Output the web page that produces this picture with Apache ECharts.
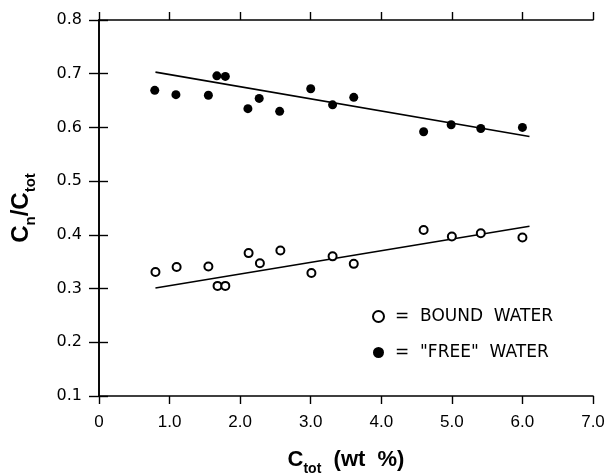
<!DOCTYPE html>
<html>
<head>
<meta charset="utf-8">
<script src="https://cdn.jsdelivr.net/npm/echarts@6/dist/echarts.min.js"></script>
<style>html,body{margin:0;padding:0;background:#fff;}#c{width:610px;height:476px;}</style>
</head>
<body>
<div id="c"></div>
<script>
// C_tot (wt %) for each sample
var boundX = [0.80, 1.10, 1.55, 1.68, 1.79, 2.12, 2.28, 2.57, 3.01, 3.31, 3.61, 4.60, 5.00, 5.41, 6.00];
var boundY = [0.331, 0.340, 0.341, 0.305, 0.305, 0.366, 0.347, 0.371, 0.329, 0.360, 0.346, 0.409, 0.397, 0.403, 0.395];
var freeX  = [0.79, 1.09, 1.55, 1.67, 1.79, 2.11, 2.27, 2.56, 3.00, 3.31, 3.61, 4.60, 4.99, 5.41, 6.00];
var freeY  = [0.669, 0.661, 0.660, 0.696, 0.695, 0.635, 0.654, 0.630, 0.672, 0.642, 0.656, 0.592, 0.605, 0.598, 0.600];
// regression line endpoints [x, y]
var boundFitX = [0.8, 6.1];
var boundFitY = [0.301, 0.416];
var freeFitX = [0.8, 6.1];
var freeFitY = [0.703, 0.583];
var seriesNames = ['BOUND WATER', '"FREE" WATER'];

function zip(a, b) { return a.map(function (v, i) { return [v, b[i]]; }); }

var chart = echarts.init(document.getElementById('c'), null, {renderer: 'canvas'});
var axisLine = {show: true, lineStyle: {color: '#000', width: 1.6}};
var sans = '"Liberation Sans", Arial, sans-serif';
chart.setOption({
  backgroundColor: '#fff',
  animation: false,
  grid: {left: 99, right: 17, top: 20, bottom: 80, containLabel: false, outerBoundsMode: 'none'},
  legend: {
    orient: 'vertical',
    left: 367, top: 303,
    itemWidth: 11, itemHeight: 11, itemGap: 19,
    data: seriesNames,
    formatter: function (n) { return '=  ' + n.replace(' ', '  '); },
    textStyle: {fontFamily: '"DejaVu Sans", sans-serif', fontSize: 17, color: '#000', padding: [0, 0, 0, 6]}
  },
  xAxis: [{
    type: 'value', position: 'bottom', min: 0, max: 7, interval: 1,
    axisLine: axisLine, splitLine: {show: false},
    axisTick: {show: true, inside: false, length: 8, lineStyle: {color: '#000', width: 1.4}},
    axisLabel: {margin: 18, color: '#000', fontSize: 17, fontFamily: sans,
      formatter: function (v) { return v === 0 ? '0' : v.toFixed(1); }},
    name: '{c|C}{s|tot}{c|  (wt  %)}', nameLocation: 'middle', nameGap: 53,
    nameTextStyle: {rich: {
      c: {fontSize: 22, fontWeight: 'bold', fontFamily: sans, color: '#000', verticalAlign: 'bottom', padding: [0, 0, 5, 0]},
      s: {fontSize: 14, fontWeight: 'bold', fontFamily: sans, color: '#000', verticalAlign: 'bottom'}
    }}
  }, {
    type: 'value', position: 'top', min: 0, max: 7, interval: 1,
    axisLine: axisLine, splitLine: {show: false},
    axisTick: {show: true, inside: false, length: 8, lineStyle: {color: '#000', width: 1.4}},
    axisLabel: {show: false}
  }],
  yAxis: [{
    type: 'value', position: 'left', min: 0.1, max: 0.8, interval: 0.1,
    axisLine: axisLine, splitLine: {show: false},
    axisTick: {show: true, inside: false, length: 10, lineStyle: {color: '#000', width: 1.4}},
    axisLabel: {margin: 17, color: '#000', fontSize: 16, fontFamily: '"DejaVu Sans", sans-serif',
      formatter: function (v) { return v.toFixed(1); }},
    name: '{c|C}{s|n}{c|/C}{s|tot}', nameLocation: 'middle', nameRotate: 90, nameGap: 61,
    nameTextStyle: {rich: {
      c: {fontSize: 24, fontWeight: 'bold', fontFamily: sans, color: '#000', verticalAlign: 'bottom', padding: [0, 0, 5, 0]},
      s: {fontSize: 15, fontWeight: 'bold', fontFamily: sans, color: '#000', verticalAlign: 'bottom'}
    }}
  }, {
    type: 'value', position: 'right', min: 0.1, max: 0.8, interval: 0.1,
    axisLine: axisLine, splitLine: {show: false},
    axisTick: {show: true, inside: false, length: 9, lineStyle: {color: '#000', width: 1.4}},
    axisLabel: {show: false}
  }],
  series: [{
    name: seriesNames[0], type: 'scatter', symbol: 'emptyCircle', symbolSize: 8,
    itemStyle: {color: '#000', borderColor: '#000', borderWidth: 1.2, opacity: 1},
    data: zip(boundX, boundY), z: 5
  }, {
    name: seriesNames[1], type: 'scatter', symbol: 'circle', symbolSize: 9,
    itemStyle: {color: '#000', opacity: 1},
    data: zip(freeX, freeY), z: 5
  }, {
    name: 'bound fit', type: 'line', symbol: 'none', silent: true,
    lineStyle: {color: '#000', width: 1.6},
    data: zip(boundFitX, boundFitY)
  }, {
    name: 'free fit', type: 'line', symbol: 'none', silent: true,
    lineStyle: {color: '#000', width: 1.6},
    data: zip(freeFitX, freeFitY)
  }]
});
</script>
</body>
</html>
